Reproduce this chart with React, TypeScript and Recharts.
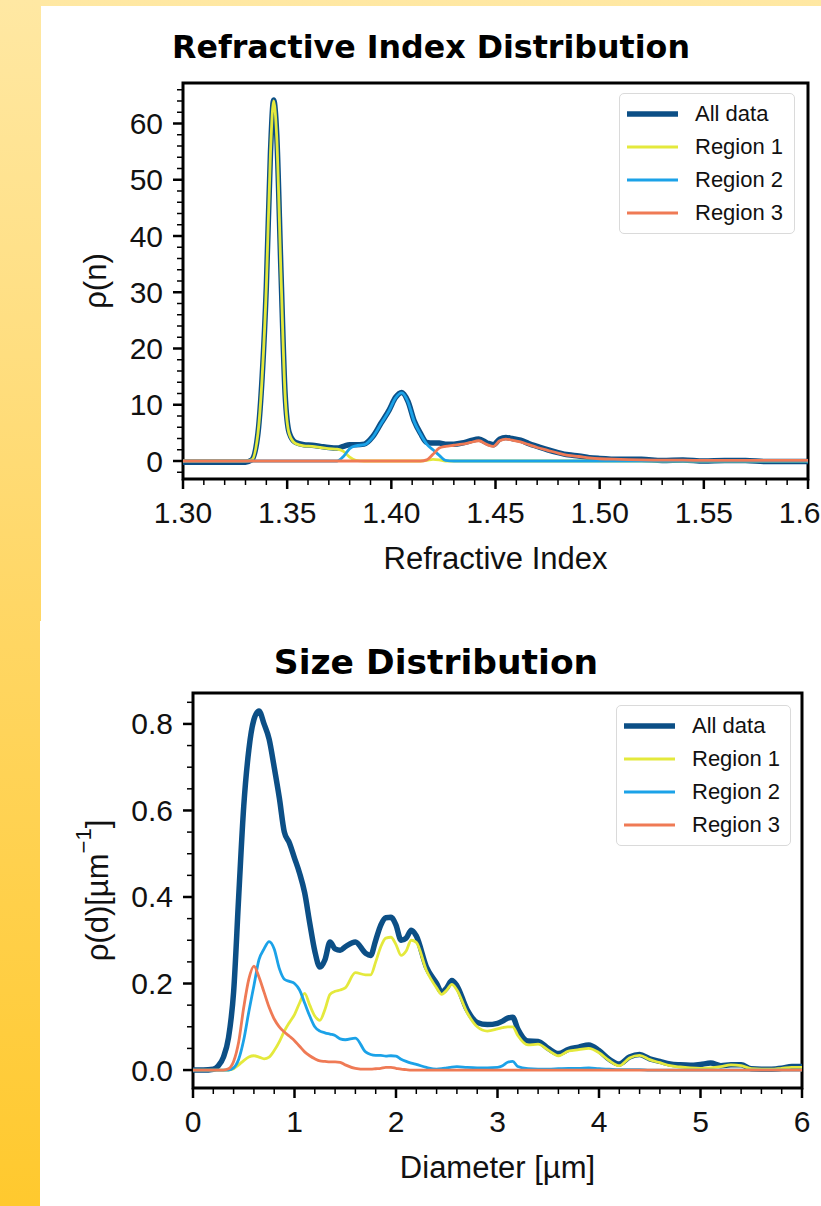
import React from 'react';
import { LineChart, Line, XAxis, YAxis, Legend, ReferenceArea } from 'recharts';

const FONT = '"Liberation Sans", Arial, sans-serif';
const TITLE_FONT = '"DejaVu Sans", sans-serif';

// ---- Refractive index distribution ----
const riN = [
  1.300, 1.320, 1.330, 1.333, 1.336, 1.338, 1.340, 1.342, 1.3435, 1.345,
  1.347, 1.349, 1.351, 1.354, 1.358, 1.362, 1.366, 1.370, 1.374, 1.377,
  1.380, 1.383, 1.387, 1.391, 1.395, 1.399, 1.402, 1.405, 1.408, 1.411,
  1.414, 1.417, 1.420, 1.423, 1.426, 1.430, 1.434, 1.438, 1.442, 1.446,
  1.449, 1.452, 1.455, 1.458, 1.462, 1.466, 1.470, 1.475, 1.480, 1.485,
  1.490, 1.495, 1.500, 1.510, 1.520, 1.530, 1.540, 1.550, 1.560, 1.570,
  1.580, 1.590, 1.600,
];
const riAll = [
  -0.2, -0.2, -0.2, 0.2, 5, 15, 31, 55, 64.2, 58,
  34, 12, 5, 3.3, 2.9, 2.8, 2.6, 2.4, 2.3, 2.6,
  2.9, 2.9, 3.0, 4.3, 6.7, 9.1, 11.3, 12.2, 10.6, 7.1,
  4.9, 3.3, 3.2, 3.2, 3.0, 3.0, 3.2, 3.6, 3.9, 3.2,
  2.9, 3.9, 4.2, 4.0, 3.7, 3.1, 2.6, 2.0, 1.5, 1.1,
  0.9, 0.6, 0.45, 0.3, 0.3, 0.1, 0.2, 0.0, 0.1, 0.1,
  -0.1, -0.1, -0.1,
];
const riRegion1 = [
  0, 0, 0, 0.2, 5, 15, 31, 55, 64, 57.5,
  33.5, 11.8, 4.8, 3.1, 2.7, 2.6, 2.4, 2.2, 2.1, 1.7,
  0.7, 0.1, 0, 0, 0, 0, 0, 0, 0, 0,
  0, 0.1, 0.3, 0.2, 0, 0, 0, 0, 0, 0,
  0, 0, 0, 0, 0, 0, 0, 0, 0, 0,
  0, 0, 0, 0, 0, 0, 0, 0, 0, 0,
  0, 0, 0,
];
const riRegion2 = [
  0, 0, 0, 0, 0, 0, 0, 0, 0, 0,
  0, 0, 0, 0, 0, 0, 0, 0, 0, 0.8,
  2.2, 2.7, 2.9, 4.2, 6.6, 9.0, 11.2, 12.1, 10.5, 7.0,
  4.8, 3.0, 2.0, 1.0, 0.1, 0, 0, 0, 0, 0,
  0, 0, 0, 0, 0, 0, 0, 0, 0, 0,
  0, 0, 0, 0, 0, 0, 0, 0, 0, 0,
  0, 0, 0,
];
const riRegion3 = [
  0, 0, 0, 0, 0, 0, 0, 0, 0, 0,
  0, 0, 0, 0, 0, 0, 0, 0, 0, 0,
  0, 0, 0, 0, 0, 0, 0, 0, 0, 0,
  0, 0.2, 1.2, 2.3, 2.6, 2.8, 3.0, 3.3, 3.6, 2.9,
  2.6, 3.6, 3.9, 3.7, 3.4, 2.9, 2.4, 1.9, 1.4, 1.0,
  0.8, 0.55, 0.4, 0.3, 0.2, 0.15, 0.15, 0.1, 0.1, 0.1,
  0.1, 0.1, 0.1,
];
const riXMajor = [1.3, 1.35, 1.4, 1.45, 1.5, 1.55, 1.6];
const riXLabels = ['1.30', '1.35', '1.40', '1.45', '1.50', '1.55', '1.60'];
const riYMajor = [0, 10, 20, 30, 40, 50, 60];
const riYLabels = ['0', '10', '20', '30', '40', '50', '60'];

// ---- Size distribution ----
const sdD = [
  0, 0.1, 0.2, 0.25, 0.3, 0.35, 0.4, 0.45, 0.5, 0.55,
  0.6, 0.65, 0.7, 0.75, 0.8, 0.85, 0.9, 0.95, 1.0, 1.05,
  1.1, 1.15, 1.2, 1.25, 1.3, 1.35, 1.4, 1.45, 1.5, 1.6,
  1.7, 1.75, 1.8, 1.85, 1.9, 1.95, 2.0, 2.05, 2.1, 2.15,
  2.2, 2.3, 2.4, 2.45, 2.5, 2.55, 2.6, 2.7, 2.8, 2.9,
  3.0, 3.05, 3.1, 3.15, 3.2, 3.3, 3.4, 3.5, 3.6, 3.7,
  3.8, 3.9, 4.0, 4.1, 4.2, 4.3, 4.4, 4.5, 4.6, 4.7,
  4.8, 4.9, 5.0, 5.1, 5.2, 5.3, 5.4, 5.5, 5.6, 5.7,
  5.8, 5.9, 6.0,
];
const sdAll = [
  0, 0, 0.002, 0.01, 0.03, 0.075, 0.18, 0.40, 0.61, 0.74,
  0.81, 0.83, 0.80, 0.765, 0.70, 0.63, 0.55, 0.525, 0.49, 0.455,
  0.41, 0.34, 0.275, 0.238, 0.255, 0.296, 0.28, 0.277, 0.285, 0.296,
  0.27, 0.265, 0.30, 0.335, 0.352, 0.353, 0.335, 0.30, 0.305, 0.323,
  0.31, 0.238, 0.20, 0.18, 0.19, 0.207, 0.195, 0.14, 0.11, 0.105,
  0.108, 0.113, 0.12, 0.122, 0.095, 0.067, 0.066, 0.05, 0.038, 0.048,
  0.053, 0.058, 0.045, 0.025, 0.014, 0.03, 0.036, 0.026, 0.02, 0.014,
  0.012, 0.011, 0.013, 0.016, 0.01, 0.012, 0.012, 0.003, 0.002, 0.002,
  0.004, 0.008, 0.008,
];
const sdRegion1 = [
  0, 0, 0, 0, 0, 0, 0.003, 0.012, 0.022, 0.03,
  0.033, 0.03, 0.026, 0.03, 0.045, 0.065, 0.09, 0.11, 0.128, 0.155,
  0.177, 0.15, 0.125, 0.115, 0.14, 0.175, 0.182, 0.185, 0.19, 0.225,
  0.22, 0.22, 0.25, 0.285, 0.305, 0.307, 0.29, 0.265, 0.275, 0.30,
  0.295, 0.23, 0.19, 0.175, 0.185, 0.198, 0.185, 0.133, 0.10, 0.09,
  0.095, 0.098, 0.10, 0.10, 0.08, 0.058, 0.06, 0.046, 0.033, 0.044,
  0.047, 0.05, 0.04, 0.022, 0.01, 0.028, 0.034, 0.024, 0.017, 0.01,
  0.007, 0.005, 0.004, 0.005, 0.008, 0.012, 0.01, 0.003, 0.002, 0.002,
  0.004, 0.006, 0.006,
];
const sdRegion2 = [
  0, 0, 0, 0, 0, 0, 0.005, 0.025, 0.07, 0.135,
  0.195, 0.255, 0.28, 0.297, 0.28, 0.235, 0.21, 0.205, 0.2, 0.185,
  0.155, 0.125, 0.1, 0.09, 0.086, 0.083, 0.08, 0.072, 0.07, 0.074,
  0.042, 0.036, 0.034, 0.034, 0.032, 0.033, 0.032, 0.025, 0.02, 0.016,
  0.013, 0.006, 0.002, 0.003, 0.005, 0.007, 0.008, 0.006, 0.005, 0.005,
  0.006, 0.01, 0.018, 0.02, 0.008, 0.003, 0.002, 0.002, 0.003, 0.004,
  0.004, 0.005, 0.003, 0.002, 0.001, 0.001, 0.001, 0, 0, 0,
  0, 0, 0, 0, 0, 0, 0, 0, 0, 0,
  0, 0, 0,
];
const sdRegion3 = [
  0, 0, 0, 0, 0, 0.003, 0.02, 0.065, 0.145, 0.21,
  0.24, 0.215, 0.18, 0.145, 0.118, 0.1, 0.088, 0.078, 0.068, 0.055,
  0.042, 0.033, 0.026, 0.021, 0.02, 0.019, 0.019, 0.018, 0.012, 0.004,
  0.002, 0.002, 0.003, 0.004, 0.006, 0.006, 0.004, 0.002, 0.001, 0,
  0, 0, 0, 0, 0, 0, 0, 0, 0, 0,
  0, 0, 0, 0, 0, 0, 0, 0, 0, 0,
  0, 0, 0, 0, 0, 0, 0, 0, 0, 0,
  0, 0, 0, 0, 0, 0, 0, 0, 0, 0,
  0, 0, 0,
];
const sdXMajor = [0, 1, 2, 3, 4, 5, 6];
const sdXLabels = ['0', '1', '2', '3', '4', '5', '6'];
const sdYMajor = [0, 0.2, 0.4, 0.6, 0.8];
const sdYLabels = ['0.0', '0.2', '0.4', '0.6', '0.8'];

const seriesNames = ['All data', 'Region 1', 'Region 2', 'Region 3'];
const SERIES = [
  { key: 'all', name: seriesNames[0], color: '#0c4f86', width: 5.5 },
  { key: 'r1', name: seriesNames[1], color: '#e4e93c', width: 2.8 },
  { key: 'r2', name: seriesNames[2], color: '#1ba2e8', width: 2.8 },
  { key: 'r3', name: seriesNames[3], color: '#ef7a55', width: 2.8 },
];

const riData = riN.map((x, i) => ({ x, all: riAll[i], r1: riRegion1[i], r2: riRegion2[i], r3: riRegion3[i] }));
const sdData = sdD.map((x, i) => ({ x, all: sdAll[i], r1: sdRegion1[i], r2: sdRegion2[i], r3: sdRegion3[i] }));

const minorTicks = (start: number, end: number, step: number, majors: number[]) => {
  const out: number[] = [];
  const n = Math.round((end - start) / step);
  for (let i = 0; i <= n; i++) {
    const v = Math.round((start + i * step) * 1e6) / 1e6;
    if (!majors.some((m) => Math.abs(m - v) < 1e-9)) out.push(v);
  }
  return out;
};

const findMajor = (majors: number[], v: number) => majors.findIndex((m) => Math.abs(m - v) < 1e-9);

const makeXTick = (majors: number[], labels: string[], dy: number) => (props: any) => {
  const { x, y, payload } = props;
  const i = findMajor(majors, payload.value);
  if (i < 0) return <line x1={x} y1={y} x2={x} y2={y + 6} stroke="#000" strokeWidth={1.5} />;
  return (
    <g>
      <line x1={x} y1={y} x2={x} y2={y + 10} stroke="#000" strokeWidth={2.5} />
      <text x={x} y={y + dy} textAnchor="middle" dominantBaseline="central" fontSize={30} fontFamily={FONT} fill="#111">
        {labels[i]}
      </text>
    </g>
  );
};

const makeYTick = (majors: number[], labels: string[]) => (props: any) => {
  const { x, y, payload } = props;
  const i = findMajor(majors, payload.value);
  if (i < 0) return <line x1={x} y1={y} x2={x - 6} y2={y} stroke="#000" strokeWidth={1.5} />;
  return (
    <g>
      <line x1={x} y1={y} x2={x - 10} y2={y} stroke="#000" strokeWidth={2.5} />
      <text x={x - 20} y={y} textAnchor="end" dominantBaseline="central" fontSize={30} fontFamily={FONT} fill="#111">
        {labels[i]}
      </text>
    </g>
  );
};

const LegendBox = (props: any) => {
  const items = props.payload || [];
  return (
    <div
      style={{
        background: 'rgba(255,255,255,0.85)',
        border: '1px solid #dadada',
        borderRadius: 5,
        padding: '3px 0 4px 7px',
        boxSizing: 'border-box',
      }}
    >
      {items.map((it: any) => {
        const s = SERIES.find((d) => d.name === it.value);
        return (
          <div key={it.value} style={{ display: 'flex', alignItems: 'center', height: 33 }}>
            <svg width={51} height={8} style={{ display: 'block' }}>
              <line x1={0} y1={4} x2={51} y2={4} stroke={it.color} strokeWidth={s ? s.width : 2.8} />
            </svg>
            <span style={{ marginLeft: 17, fontSize: 22, fontFamily: FONT, color: '#111', lineHeight: '33px' }}>{it.value}</span>
          </div>
        );
      })}
    </div>
  );
};

type PanelProps = {
  top: number;
  height: number;
  data: any[];
  xDomain: [number, number];
  yDomain: [number, number];
  xMajor: number[];
  xLabels: string[];
  xMinor: number[];
  yMajor: number[];
  yLabels: string[];
  yMinor: number[];
  margin: { top: number; right: number; bottom: number; left: number };
  xTitle: string;
  yTitle: React.ReactNode;
  yTitleGap: number;
  title: string;
  titleX: number;
  titleY: number;
  titleSize: number;
  legendLeft: number;
  legendTop: number;
  legendWidth: number;
};

function Panel(p: PanelProps) {
  const xTicks = [...p.xMajor, ...p.xMinor].sort((a, b) => a - b);
  const yTicks = [...p.yMajor, ...p.yMinor].sort((a, b) => a - b);
  return (
    <div style={{ position: 'absolute', left: 0, top: p.top, width: 821, height: p.height }}>
      <div
        style={{
          position: 'absolute',
          left: p.titleX - 350,
          width: 700,
          top: p.titleY - 20,
          lineHeight: '40px',
          textAlign: 'center',
          fontFamily: TITLE_FONT,
          fontWeight: 'bold',
          fontSize: p.titleSize,
          color: '#000',
        }}
      >
        {p.title}
      </div>
      <LineChart width={821} height={p.height} data={p.data} margin={p.margin}>
        <XAxis
          type="number"
          dataKey="x"
          domain={p.xDomain}
          allowDataOverflow
          ticks={xTicks}
          interval={0}
          tickSize={0}
          tickMargin={0}
          tickLine={false}
          axisLine={false}
          height={100}
          tick={makeXTick(p.xMajor, p.xLabels, 33)}
          label={{
            content: (lp: any) => {
              const vb = lp.viewBox;
              return (
                <text x={vb.x + vb.width / 2} y={vb.y + 79} textAnchor="middle" dominantBaseline="central" fontSize={31} fontFamily={FONT} fill="#111">
                  {p.xTitle}
                </text>
              );
            },
          }}
        />
        <YAxis
          type="number"
          domain={p.yDomain}
          allowDataOverflow
          ticks={yTicks}
          interval={0}
          tickSize={0}
          tickMargin={0}
          tickLine={false}
          axisLine={false}
          width={100}
          tick={makeYTick(p.yMajor, p.yLabels)}
          label={{
            content: (lp: any) => {
              const vb = lp.viewBox;
              const cx = vb.x + vb.width - p.yTitleGap;
              const cy = vb.y + vb.height / 2;
              return (
                <text
                  x={cx}
                  y={cy}
                  transform={`rotate(-90 ${cx} ${cy})`}
                  textAnchor="middle"
                  dominantBaseline="central"
                  fontSize={31}
                  fontFamily={FONT}
                  fill="#111"
                >
                  {p.yTitle}
                </text>
              );
            },
          }}
        />
        {SERIES.map((s) => (
          <Line
            key={s.key}
            dataKey={s.key}
            name={s.name}
            type="monotone"
            stroke={s.color}
            strokeWidth={s.width}
            strokeLinejoin="round"
            dot={false}
            activeDot={false}
            isAnimationActive={false}
          />
        ))}
        <ReferenceArea
          x1={p.xDomain[0]}
          x2={p.xDomain[1]}
          y1={p.yDomain[0]}
          y2={p.yDomain[1]}
          fill="none"
          fillOpacity={0}
          stroke="#000"
          strokeWidth={3}
          ifOverflow="visible"
        />
        <Legend
          layout="horizontal"
          verticalAlign="middle"
          align="center"
          content={LegendBox}
          wrapperStyle={{ left: p.legendLeft, top: p.legendTop, width: p.legendWidth }}
        />
      </LineChart>
    </div>
  );
}

export default function App() {
  return (
    <div
      style={{
        position: 'absolute',
        left: 0,
        top: 0,
        width: 821,
        height: 1206,
        overflow: 'hidden',
        background: 'linear-gradient(180deg, #ffe8a3 0%, #ffd766 50%, #ffc92e 100%)',
      }}
    >
      <div style={{ position: 'absolute', left: 41, top: 6, width: 780, height: 615, background: '#fff' }} />
      <div style={{ position: 'absolute', left: 40, top: 621, width: 781, height: 585, background: '#fff' }} />
      <Panel
        top={0}
        height={600}
        data={riData}
        xDomain={[1.3, 1.6]}
        yDomain={[-3.2, 67.2]}
        xMajor={riXMajor}
        xLabels={riXLabels}
        xMinor={minorTicks(1.3, 1.6, 0.01, riXMajor)}
        yMajor={riYMajor}
        yLabels={riYLabels}
        yMinor={minorTicks(-2, 66, 2, riYMajor)}
        margin={{ top: 83, right: 13, bottom: 21, left: 83 }}
        xTitle="Refractive Index"
        yTitle="ρ(n)"
        yTitleGap={88}
        title="Refractive Index Distribution"
        titleX={431}
        titleY={47}
        titleSize={31.7}
        legendLeft={619}
        legendTop={93}
        legendWidth={176}
      />
      <Panel
        top={600}
        height={606}
        data={sdData}
        xDomain={[0, 6]}
        yDomain={[-0.0415, 0.8715]}
        xMajor={sdXMajor}
        xLabels={sdXLabels}
        xMinor={minorTicks(0, 6, 0.2, sdXMajor)}
        yMajor={sdYMajor}
        yLabels={sdYLabels}
        yMinor={minorTicks(0, 0.85, 0.05, sdYMajor)}
        margin={{ top: 93, right: 19, bottom: 18, left: 93 }}
        xTitle="Diameter [µm]"
        yTitle={
          <>
            <tspan>ρ(d)[µm</tspan>
            <tspan dy={-14} fontSize={22}>−1</tspan>
            <tspan dy={14}>]</tspan>
          </>
        }
        yTitleGap={96}
        title="Size Distribution"
        titleX={436}
        titleY={62}
        titleSize={34.5}
        legendLeft={616}
        legendTop={105}
        legendWidth={175}
      />
    </div>
  );
}
